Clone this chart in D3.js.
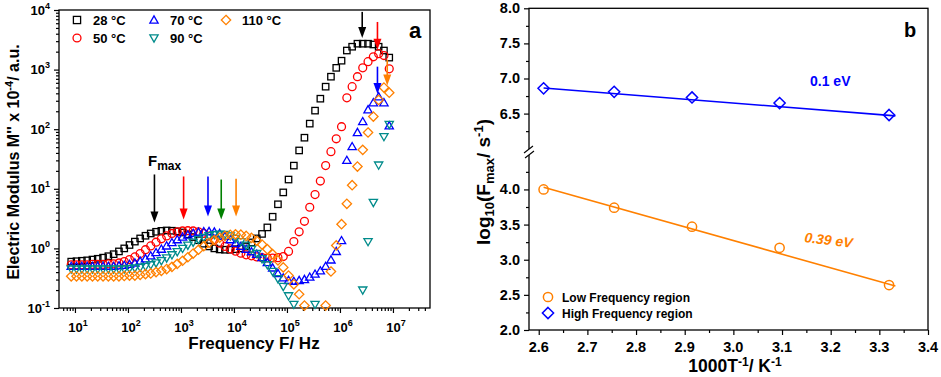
<!DOCTYPE html>
<html><head><meta charset="utf-8">
<script src="https://cdn.jsdelivr.net/npm/d3@7"></script>
<style>
body{margin:0;background:#fff}
svg{display:block}
text{font-family:Arial,"Liberation Sans",sans-serif;font-weight:bold;fill:#000}
</style></head>
<body><svg id="c" width="941" height="377"></svg>
<script>
// ---------- DATA (panel a) ----------
const freq = [8.5,10.7,13.5,17,21.4,26.9,33.9,42.7,53.7,67.6,
  85.1,107,135,170,214,269,339,427,537,676,
  851,1072,1349,1698,2138,2692,3388,4266,5370,6761,
  8511,10715,13490,16982,21380,26915,33884,42658,53703,67608,
  85114,107152,134896,169824,213796,269153,338844,426580,537032,676083,
  851138,1071519,1348963,1698244,2137962,2691535,3388442,4265795,5370318,6760830,
  8511380];
const m28 = [0.60,0.61,0.62,0.63,0.65,0.67,0.70,0.74,0.80,0.89,
  1.00,1.14,1.30,1.47,1.63,1.78,1.90,1.97,2.00,1.98,
  1.93,1.85,1.72,1.55,1.37,1.20,1.08,1.00,0.96,0.95,
  0.95,0.97,1.00,1.08,1.26,1.47,1.75,2.25,3.4,5.5,
  8.7,14.3,24.5,44,72,124,205,325,517,760,
  1070,1410,2090,2420,2720,2720,2720,2640,2420,2090,
  1590];
const m50 = [0.53,0.53,0.53,0.53,0.54,0.54,0.54,0.55,0.55,0.57,
  0.60,0.65,0.72,0.82,0.95,1.10,1.27,1.45,1.62,1.78,
  1.90,1.96,1.98,1.96,1.90,1.78,1.60,1.40,1.22,1.08,
  0.98,0.90,0.83,0.78,0.75,0.72,0.70,0.69,0.69,0.70,
  0.73,0.89,1.30,1.90,2.85,4.9,8.0,13.5,24.5,42,
  69,110,336,517,760,1070,1360,1640,1850,1720,
  1030];
const m70 = [0.50,0.50,0.50,0.50,0.50,0.50,0.50,0.50,0.50,0.51,
  0.52,0.54,0.57,0.61,0.67,0.75,0.85,0.97,1.10,1.25,
  1.40,1.55,1.68,1.79,1.87,1.91,1.92,1.88,1.78,1.60,
  1.40,1.22,1.08,0.97,0.88,0.80,0.70,0.58,0.47,0.38,
  0.32,0.29,0.28,0.29,0.30,0.33,0.37,0.42,0.50,0.64,
  0.89,1.35,30,51,88,134,212,278,350,278,
  114];
const m90 = [0.45,0.45,0.45,0.45,0.45,0.45,0.45,0.45,0.45,0.45,
  0.45,0.46,0.47,0.48,0.50,0.53,0.57,0.62,0.69,0.78,
  0.88,1.00,1.13,1.27,1.41,1.53,1.63,1.70,1.73,1.71,
  1.62,1.47,1.30,1.13,0.97,0.82,0.67,0.53,0.41,0.31,
  0.23,0.16,0.115,null,null,null,0.115,null,null,null,
  null,null,null,null,null,0.2,1.3,5.9,25,75,
  120];
const m110 = [0.34,0.34,0.34,0.34,0.34,0.34,0.34,0.34,0.34,0.34,
  0.345,0.35,0.35,0.36,0.37,0.38,0.40,0.42,0.45,0.49,
  0.55,0.62,0.71,0.82,0.95,1.09,1.24,1.38,1.51,1.62,
  1.69,1.72,1.70,1.62,1.50,1.34,1.16,0.97,0.80,0.63,
  0.48,0.35,0.25,0.17,0.11,null,null,null,0.11,0.41,
  1.12,2.55,5.6,11.5,23.6,45,88,163,310,500,
  410];
const seriesLabels = ["28 °C","50 °C","70 °C","90 °C","110 °C"];
const seriesColors = ["#000000","#ff0000","#0000ff","#008b8b","#ff8000"];
const seriesShapes = ["square","circle","triUp","triDown","diamond"];
const seriesData = [m28,m50,m70,m90,m110];

// Fmax arrows (low frequency peak) : frequency, top value, tip value
const lowArrowFreq = [316,1122,3236,5754,10965];
const lowArrowTop  = [17.4,16.1,16.1,14.3,14.8];
const lowArrowTip  = [2.73,3.06,3.43,3.06,3.43];
const lowArrowColor = ["#000000","#ff0000","#0000ff","#008000","#ff8000"];
// high frequency arrows
const highArrowFreq = [2.63e6,5.1e6,5.1e6,7.8e6];
const highArrowTop  = [9300,6300,1120,1470];
const highArrowTip  = [3400,2150,390,540];
const highArrowColor = ["#000000","#ff0000","#0000ff","#ff8000"];

const xTickExp = [1,2,3,4,5,6,7];
const yTickExp = [-1,0,1,2,3,4];

// ---------- DATA (panel b) ----------
const invT = [2.61,2.755,2.915,3.095,3.32];
const logFlow = [4.00,3.74,3.47,3.17,2.64];
const logFhigh = [6.86,6.81,6.73,6.65,6.48];
const lowFitX = [2.61,3.333], lowFitY = [4.03,2.626];
const highFitX = [2.61,3.333], highFitY = [6.865,6.467];
const bXTicks = [2.6,2.7,2.8,2.9,3.0,3.1,3.2,3.3,3.4];
const bYTicksUp = [6.5,7.0,7.5,8.0];
const bYTicksLow = [2.0,2.5,3.0,3.5,4.0];

// ---------- DRAW ----------
const svg = d3.select("#c");

function marker(g, shape, cx, cy, s, color, sw){
  let el;
  if(shape==="square"){
    el = g.append("rect").attr("x",cx-s).attr("y",cy-s).attr("width",2*s).attr("height",2*s);
  } else if(shape==="circle"){
    el = g.append("circle").attr("cx",cx).attr("cy",cy).attr("r",s*1.1);
  } else {
    let pts;
    if(shape==="triUp") pts=[[0,-s*1.15],[s*1.15,s*0.85],[-s*1.15,s*0.85]];
    else if(shape==="triDown") pts=[[0,s*1.15],[s*1.15,-s*0.85],[-s*1.15,-s*0.85]];
    else pts=[[0,-s*1.3],[s*1.3,0],[0,s*1.3],[-s*1.3,0]];
    el = g.append("path").attr("d","M"+pts.map(p=>[cx+p[0],cy+p[1]].join(",")).join("L")+"Z");
  }
  el.attr("fill","none").attr("stroke",color).attr("stroke-width",sw);
  return el;
}

function arrow(g, x, yTop, yTip, color){
  g.append("line").attr("x1",x).attr("x2",x).attr("y1",yTop).attr("y2",yTip-8)
    .attr("stroke",color).attr("stroke-width",1.6);
  g.append("path").attr("d",`M${x-4},${yTip-11}L${x+4},${yTip-11}L${x},${yTip}Z`).attr("fill",color);
}

// ===== Panel a =====
const xA = d3.scaleLog().domain([5,5e7]).range([59,430]);
const yA = d3.scaleLog().domain([0.1,1e4]).range([308,10]);
const gA = svg.append("g");

const xMinorA = [], yMinorA = [];
for(let k=0;k<=7;k++) for(let m=2;m<=9;m++){const v=m*Math.pow(10,k); if(v>5&&v<5e7) xMinorA.push(v);}
for(let k=-1;k<=3;k++) for(let m=2;m<=9;m++){yMinorA.push(m*Math.pow(10,k));}

function styleAxis(g){ g.select(".domain").remove(); g.selectAll("line").attr("stroke","#000").attr("stroke-width",1.2); }
gA.append("g").attr("transform","translate(0,308)")
  .call(d3.axisBottom(xA).tickValues(xTickExp.map(e=>Math.pow(10,e))).tickSize(5).tickFormat("")).call(styleAxis);
gA.append("g").attr("transform","translate(0,308)")
  .call(d3.axisBottom(xA).tickValues(xMinorA).tickSize(3).tickFormat("")).call(styleAxis);
gA.append("g").attr("transform","translate(59,0)")
  .call(d3.axisLeft(yA).tickValues(yTickExp.map(e=>Math.pow(10,e))).tickSize(5).tickFormat("")).call(styleAxis);
gA.append("g").attr("transform","translate(59,0)")
  .call(d3.axisLeft(yA).tickValues(yMinorA).tickSize(3).tickFormat("")).call(styleAxis);
gA.append("rect").attr("x",59).attr("y",10).attr("width",371).attr("height",298)
  .attr("fill","none").attr("stroke","#000").attr("stroke-width",1.3);

xTickExp.forEach(e=>{
  const t = gA.append("text").attr("x",xA(Math.pow(10,e))+3).attr("y",332).attr("text-anchor","middle").attr("font-size",13);
  t.append("tspan").text("10");
  t.append("tspan").attr("dy",-6).attr("font-size",9).text(e);
});
yTickExp.forEach(e=>{
  const t = gA.append("text").attr("x",50).attr("y",yA(Math.pow(10,e))+4.5).attr("text-anchor","end").attr("font-size",13);
  t.append("tspan").text("10");
  t.append("tspan").attr("dy",-6).attr("font-size",9).text(e);
});

// titles
gA.append("text").attr("x",254).attr("y",349).attr("text-anchor","middle").attr("font-size",17).text("Frequency F/ Hz");
{
  const t = gA.append("text").attr("transform","translate(19,162) rotate(-90)").attr("text-anchor","middle").attr("font-size",16);
  t.append("tspan").text("Electric Modulus M'' x 10");
  t.append("tspan").attr("dy",-6).attr("font-size",11).text("-4");
  t.append("tspan").attr("dy",6).text("/ a.u.");
}
gA.append("text").attr("x",409).attr("y",38).attr("font-size",22).text("a");

// series
seriesData.forEach((arr,si)=>{
  const g = gA.append("g");
  arr.forEach((v,i)=>{
    if(v==null) return;
    marker(g, seriesShapes[si], xA(freq[i]), yA(v), si===0?3.2:3.6, seriesColors[si], 1.3);
  });
});

// arrows
lowArrowFreq.forEach((f,i)=>arrow(gA, xA(f), yA(lowArrowTop[i]), yA(lowArrowTip[i]), lowArrowColor[i]));
highArrowFreq.forEach((f,i)=>arrow(gA, xA(f), yA(highArrowTop[i]), yA(highArrowTip[i]), highArrowColor[i]));
{
  const t = gA.append("text").attr("x",148).attr("y",166).attr("font-size",15);
  t.append("tspan").text("F");
  t.append("tspan").attr("dy",4).attr("font-size",12).text("max");
}

// legend a
const legPos = [[77,20],[77,38],[154,20],[154,38],[226,20]];
seriesLabels.forEach((lab,i)=>{
  const [lx,ly] = legPos[i];
  marker(gA, seriesShapes[i], lx, ly, 3.6, seriesColors[i], 1.3);
  gA.append("text").attr("x",lx+16).attr("y",ly+4.5).attr("font-size",13).text(lab);
});

// ===== Panel b =====
const gB = svg.append("g");
const xB = d3.scaleLinear().domain([2.58,3.4]).range([529,928]);
const yBup = d3.scaleLinear().domain([5.95,8]).range([152.2,8.3]);
const yBlow = d3.scaleLinear().domain([2,4.47]).range([330,156.4]);
const yB = v => v>5 ? yBup(v) : yBlow(v);

gB.append("g").attr("transform","translate(0,330)")
  .call(d3.axisBottom(xB).tickValues(bXTicks).tickSize(5).tickFormat("")).call(styleAxis);
gB.append("g").attr("transform","translate(0,330)")
  .call(d3.axisBottom(xB).tickValues(bXTicks.slice(0,-1).map(v=>v+0.05)).tickSize(3).tickFormat("")).call(styleAxis);
gB.append("g").attr("transform","translate(529,0)")
  .call(d3.axisLeft(yBup).tickValues(bYTicksUp).tickSize(5).tickFormat("")).call(styleAxis);
gB.append("g").attr("transform","translate(529,0)")
  .call(d3.axisLeft(yBup).tickValues([6.25,6.75,7.25,7.75]).tickSize(3).tickFormat("")).call(styleAxis);
gB.append("g").attr("transform","translate(529,0)")
  .call(d3.axisLeft(yBlow).tickValues(bYTicksLow).tickSize(5).tickFormat("")).call(styleAxis);
gB.append("g").attr("transform","translate(529,0)")
  .call(d3.axisLeft(yBlow).tickValues([2.25,2.75,3.25,3.75,4.25]).tickSize(3).tickFormat("")).call(styleAxis);
gB.append("rect").attr("x",529).attr("y",8.3).attr("width",399).attr("height",321.7)
  .attr("fill","none").attr("stroke","#000").attr("stroke-width",1.3);
// axis break
gB.append("rect").attr("x",526).attr("y",149).attr("width",6).attr("height",6).attr("fill","#fff");
gB.append("line").attr("x1",524).attr("y1",153).attr("x2",533).attr("y2",146).attr("stroke","#000").attr("stroke-width",1.1);
gB.append("line").attr("x1",525).attr("y1",158).attr("x2",534).attr("y2",151).attr("stroke","#000").attr("stroke-width",1.1);

bXTicks.forEach(v=>gB.append("text").attr("x",xB(v)).attr("y",352).attr("text-anchor","middle").attr("font-size",14.5).text(v.toFixed(1)));
bYTicksUp.forEach(v=>gB.append("text").attr("x",520).attr("y",yBup(v)+5).attr("text-anchor","end").attr("font-size",14.5).text(v.toFixed(1)));
bYTicksLow.forEach(v=>gB.append("text").attr("x",520).attr("y",yBlow(v)+5).attr("text-anchor","end").attr("font-size",14.5).text(v.toFixed(1)));

{
  const t = gB.append("text").attr("x",735).attr("y",372).attr("text-anchor","middle").attr("font-size",17.5);
  t.append("tspan").text("1000T");
  t.append("tspan").attr("dy",-6).attr("font-size",12).text("-1");
  t.append("tspan").attr("dy",6).text("/ K");
  t.append("tspan").attr("dy",-6).attr("font-size",12).text("-1");
}
{
  const t = gB.append("text").attr("transform","translate(490,182) rotate(-90)").attr("text-anchor","middle").attr("font-size",19);
  t.append("tspan").text("log");
  t.append("tspan").attr("dy",4).attr("font-size",13).text("10");
  t.append("tspan").attr("dy",-4).text("(F");
  t.append("tspan").attr("dy",4).attr("font-size",13).text("max");
  t.append("tspan").attr("dy",-4).text("/ s");
  t.append("tspan").attr("dy",-7).attr("font-size",13).text("-1");
  t.append("tspan").attr("dy",7).text(")");
}
gB.append("text").attr("x",904).attr("y",37).attr("font-size",20).text("b");

// fit lines
const line = d3.line().x(d=>xB(d[0])).y(d=>yB(d[1]));
gB.append("path").attr("d",line(lowFitX.map((x,i)=>[x,lowFitY[i]]))).attr("stroke","#ff8000").attr("stroke-width",1.6).attr("fill","none");
gB.append("path").attr("d",line(highFitX.map((x,i)=>[x,highFitY[i]]))).attr("stroke","#0000ff").attr("stroke-width",1.6).attr("fill","none");
invT.forEach((x,i)=>{
  marker(gB,"circle",xB(x),yB(logFlow[i]),4.2,"#ff8000",1.5);
  marker(gB,"diamond",xB(x),yB(logFhigh[i]),4.3,"#0000ff",1.5);
});
gB.append("text").attr("x",810).attr("y",86).attr("font-size",14).style("fill","#0000ff").text("0.1 eV");
gB.append("text").attr("transform","translate(804,242) rotate(7)").attr("font-size",14).attr("font-style","italic").style("fill","#ff8000").text("0.39 eV");

// legend b
marker(gB,"circle",548,297,4.2,"#ff8000",1.5);
gB.append("text").attr("x",562).attr("y",301.5).attr("font-size",12).text("Low Frequency region");
marker(gB,"diamond",548,313,4.3,"#0000ff",1.5);
gB.append("text").attr("x",562).attr("y",317.5).attr("font-size",12).text("High Frequency region");
</script></body></html>
